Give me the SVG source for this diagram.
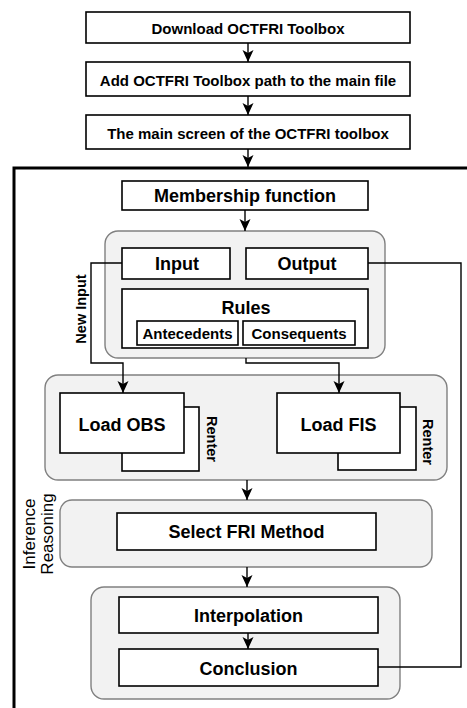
<svg xmlns="http://www.w3.org/2000/svg" width="467" height="708" viewBox="0 0 467 708">
<defs>
<marker id="ah" markerUnits="userSpaceOnUse" markerWidth="12" markerHeight="12" viewBox="0 0 12 12" refX="12" refY="6" orient="auto">
<path d="M0,0.5 L12,6 L0,11.5 L3,6 z" fill="#000"/>
</marker>
<style>
text{font-family:"Liberation Sans",Arial,sans-serif;fill:#000;}
.b{font-weight:bold;text-anchor:middle;}
.box{fill:#fff;stroke:#000;stroke-width:1.6;}
.grp{fill:#f2f2f2;stroke:#808080;stroke-width:1.4;}
.ln{fill:none;stroke:#000;stroke-width:1.4;}
.ar{fill:none;stroke:#000;stroke-width:1.4;marker-end:url(#ah);}
</style>
</defs>
<rect width="467" height="708" fill="#fff"/>

<g id="frame">
<rect x="14" y="168" width="470" height="560" fill="none" stroke="#000" stroke-width="3"/>
</g>

<g id="n-download">
<rect class="box" x="86" y="12" width="324" height="31"/>
<text class="b" x="248" y="34" font-size="15">Download OCTFRI Toolbox</text>
</g>
<g id="n-addpath">
<rect class="box" x="86" y="62" width="324" height="34"/>
<text class="b" x="248" y="86" font-size="15">Add OCTFRI Toolbox path to the main file</text>
</g>
<g id="n-mainscreen">
<rect class="box" x="86" y="115" width="324" height="34"/>
<text class="b" x="248" y="139" font-size="15">The main screen of the OCTFRI toolbox</text>
</g>

<g id="n-membership">
<rect class="box" x="122" y="181" width="246" height="29"/>
<text class="b" x="245" y="202" font-size="18">Membership function</text>
</g>

<g id="g-fis">
<rect class="grp" x="105" y="231" width="280" height="127" rx="13"/>
</g>
<g id="n-input">
<rect class="box" x="122" y="248" width="108" height="31"/>
<text class="b" x="177" y="270" font-size="18">Input</text>
</g>
<g id="n-output">
<rect class="box" x="246" y="248" width="122" height="31"/>
<text class="b" x="307" y="270" font-size="18">Output</text>
</g>
<g id="n-rules">
<rect class="box" x="122" y="289" width="246" height="59"/>
<text class="b" x="246" y="314" font-size="18">Rules</text>
</g>
<g id="n-antecedents">
<rect class="box" x="137" y="321" width="101" height="24"/>
<text class="b" x="187.5" y="339" font-size="15">Antecedents</text>
</g>
<g id="n-consequents">
<rect class="box" x="243" y="321" width="112" height="24"/>
<text class="b" x="299" y="339" font-size="15">Consequents</text>
</g>

<g id="g-load">
<rect class="grp" x="45" y="375" width="402" height="105" rx="13"/>
</g>
<g id="n-loadobs">
<rect class="box" x="122" y="407" width="77" height="64"/>
<rect class="box" x="60" y="393" width="124" height="60"/>
<text class="b" x="122" y="431" font-size="18">Load OBS</text>
<text class="b" transform="translate(207,439) rotate(90)" font-size="14.5">Renter</text>
</g>
<g id="n-loadfis">
<rect class="box" x="338" y="407" width="78" height="63"/>
<rect class="box" x="277" y="393" width="123" height="60"/>
<text class="b" x="338.5" y="431" font-size="18">Load FIS</text>
<text class="b" transform="translate(423,442) rotate(90)" font-size="14.5">Renter</text>
</g>

<g id="g-fri">
<rect class="grp" x="60" y="500" width="372" height="67" rx="12"/>
</g>
<g id="n-select">
<rect class="box" x="117" y="513" width="259" height="37"/>
<text class="b" x="246.5" y="538" font-size="18">Select FRI Method</text>
</g>
<g id="lbl-inference">
<text transform="translate(35,534) rotate(-90)" text-anchor="middle" font-size="17">Inference</text>
<text transform="translate(53,534) rotate(-90)" text-anchor="middle" font-size="17">Reasoning</text>
</g>

<g id="g-result">
<rect class="grp" x="91" y="587" width="309" height="112" rx="13"/>
</g>
<g id="n-interpolation">
<rect class="box" x="119" y="597" width="259" height="36"/>
<text class="b" x="248.5" y="622" font-size="18">Interpolation</text>
</g>
<g id="n-conclusion">
<rect class="box" x="119" y="649" width="259" height="37"/>
<text class="b" x="248.5" y="675" font-size="18">Conclusion</text>
</g>

<g id="connectors">
<path class="ar" d="M248,43 V62"/>
<path class="ar" d="M248,96 V115"/>
<path class="ar" d="M248,149 V167"/>
<path class="ar" d="M245,210 V231"/>
<path class="ar" d="M122,263 H91 V363 H123 V393"/>
<path class="ar" d="M246,358 V363 H339 V393"/>
<path class="ar" d="M247,480 V500"/>
<path class="ar" d="M247,567 V587"/>
<path class="ar" d="M248,633 V649"/>
<path class="ln" d="M378,667 H461 V263 H368"/>
<text class="b" transform="translate(86,309) rotate(-90)" font-size="14.5">New Input</text>
</g>
</svg>
